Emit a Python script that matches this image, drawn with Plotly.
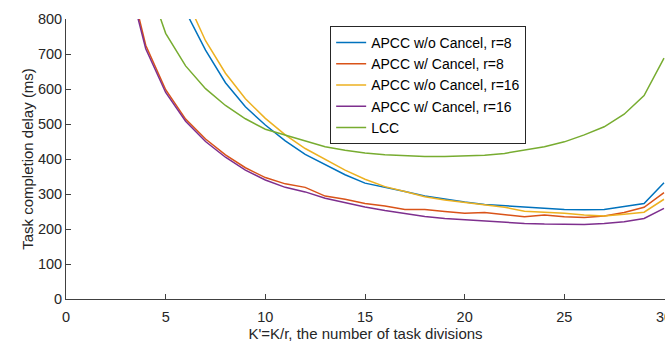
import plotly.graph_objects as go

x_vals = list(range(3, 31))

apcc_wo_r8 = [None, None, None, 822, 711, 618, 549, 497, 452, 413, 385, 355, 331, 320, 307, 294,
              285, 277, 270, 266, 263, 258, 256, 255, 256, 264, 273, 332]
apcc_w_r8 = [959, 725, 598, 514, 457, 412, 375, 347, 329, 319, 294, 285, 273, 266, 256, 256,
             250, 245, 247, 240, 235, 240, 235, 233, 237, 247, 262, 304]
apcc_wo_r16 = [None, None, None, 862, 738, 645, 572, 516, 469, 430, 398, 368, 342, 321, 307, 292,
               283, 276, 268, 262, 251, 249, 245, 240, 237, 242, 248, 285]
apcc_w_r16 = [939, 715, 590, 508, 450, 405, 368, 340, 319, 306, 288, 275, 263, 253, 244, 236,
              230, 226, 223, 220, 216, 214, 214, 213, 216, 221, 230, 259]
lcc = [None, 923, 759, 666, 601, 553, 515, 485, 469, 451, 435, 425, 417, 412, 409, 407,
       407, 409, 411, 416, 426, 435, 449, 469, 492, 528, 581, 688]

series_names = ["APCC w/o Cancel, r=8", "APCC w/ Cancel, r=8", "APCC w/o Cancel, r=16",
                "APCC w/ Cancel, r=16", "LCC"]
series_data = [apcc_wo_r8, apcc_w_r8, apcc_wo_r16, apcc_w_r16, lcc]
colors = ["#0072BD", "#D95319", "#EDB120", "#7E2F8E", "#77AC30"]

x_ticks = [0, 5, 10, 15, 20, 25, 30]
y_ticks = [0, 100, 200, 300, 400, 500, 600, 700, 800]

FONT = "Liberation Sans, Arial, sans-serif"
TXT = "#262626"

fig = go.Figure()
for name, ys, c in zip(series_names, series_data, colors):
    fig.add_trace(go.Scatter(x=x_vals, y=ys, mode="lines", name=name,
                             line=dict(color=c, width=1.5), connectgaps=False))

fig.update_layout(
    width=665, height=342,
    margin=dict(l=66, r=0, t=19, b=43, autoexpand=False),
    plot_bgcolor="white", paper_bgcolor="white",
    font=dict(family=FONT, size=14, color=TXT),
    showlegend=True,
    legend=dict(x=0.441, y=0.975, xanchor="left", yanchor="top",
                bgcolor="white", bordercolor="#262626", borderwidth=1,
                font=dict(size=14, color="#000000"), itemwidth=30,
                tracegroupgap=0),
)
fig.update_xaxes(range=[0, 30.05], tickvals=x_ticks, ticks="inside", ticklen=5,
                 tickcolor="#404040", showline=True, linecolor="#404040", linewidth=1,
                 showgrid=False, zeroline=False, mirror=False, automargin=False,
                 ticklabelstandoff=5, ticklabeloverflow="allow",
                 title=dict(text="K'=K/r, the number of task divisions", standoff=12,
                            font=dict(size=15, color=TXT)),
                 tickfont=dict(size=14.5, color=TXT))
fig.update_yaxes(range=[0, 800], tickvals=y_ticks, ticks="inside", ticklen=5,
                 tickcolor="#404040", showline=True, linecolor="#404040", linewidth=1,
                 showgrid=False, zeroline=False, mirror=False, automargin=False,
                 title=dict(text="Task completion delay (ms)", standoff=0,
                            font=dict(size=15, color=TXT)),
                 tickfont=dict(size=14.5, color=TXT))

fig.write_html("out.html", config={"displayModeBar": False},
               post_script="document.body.style.margin='0';document.body.style.padding='0';")
